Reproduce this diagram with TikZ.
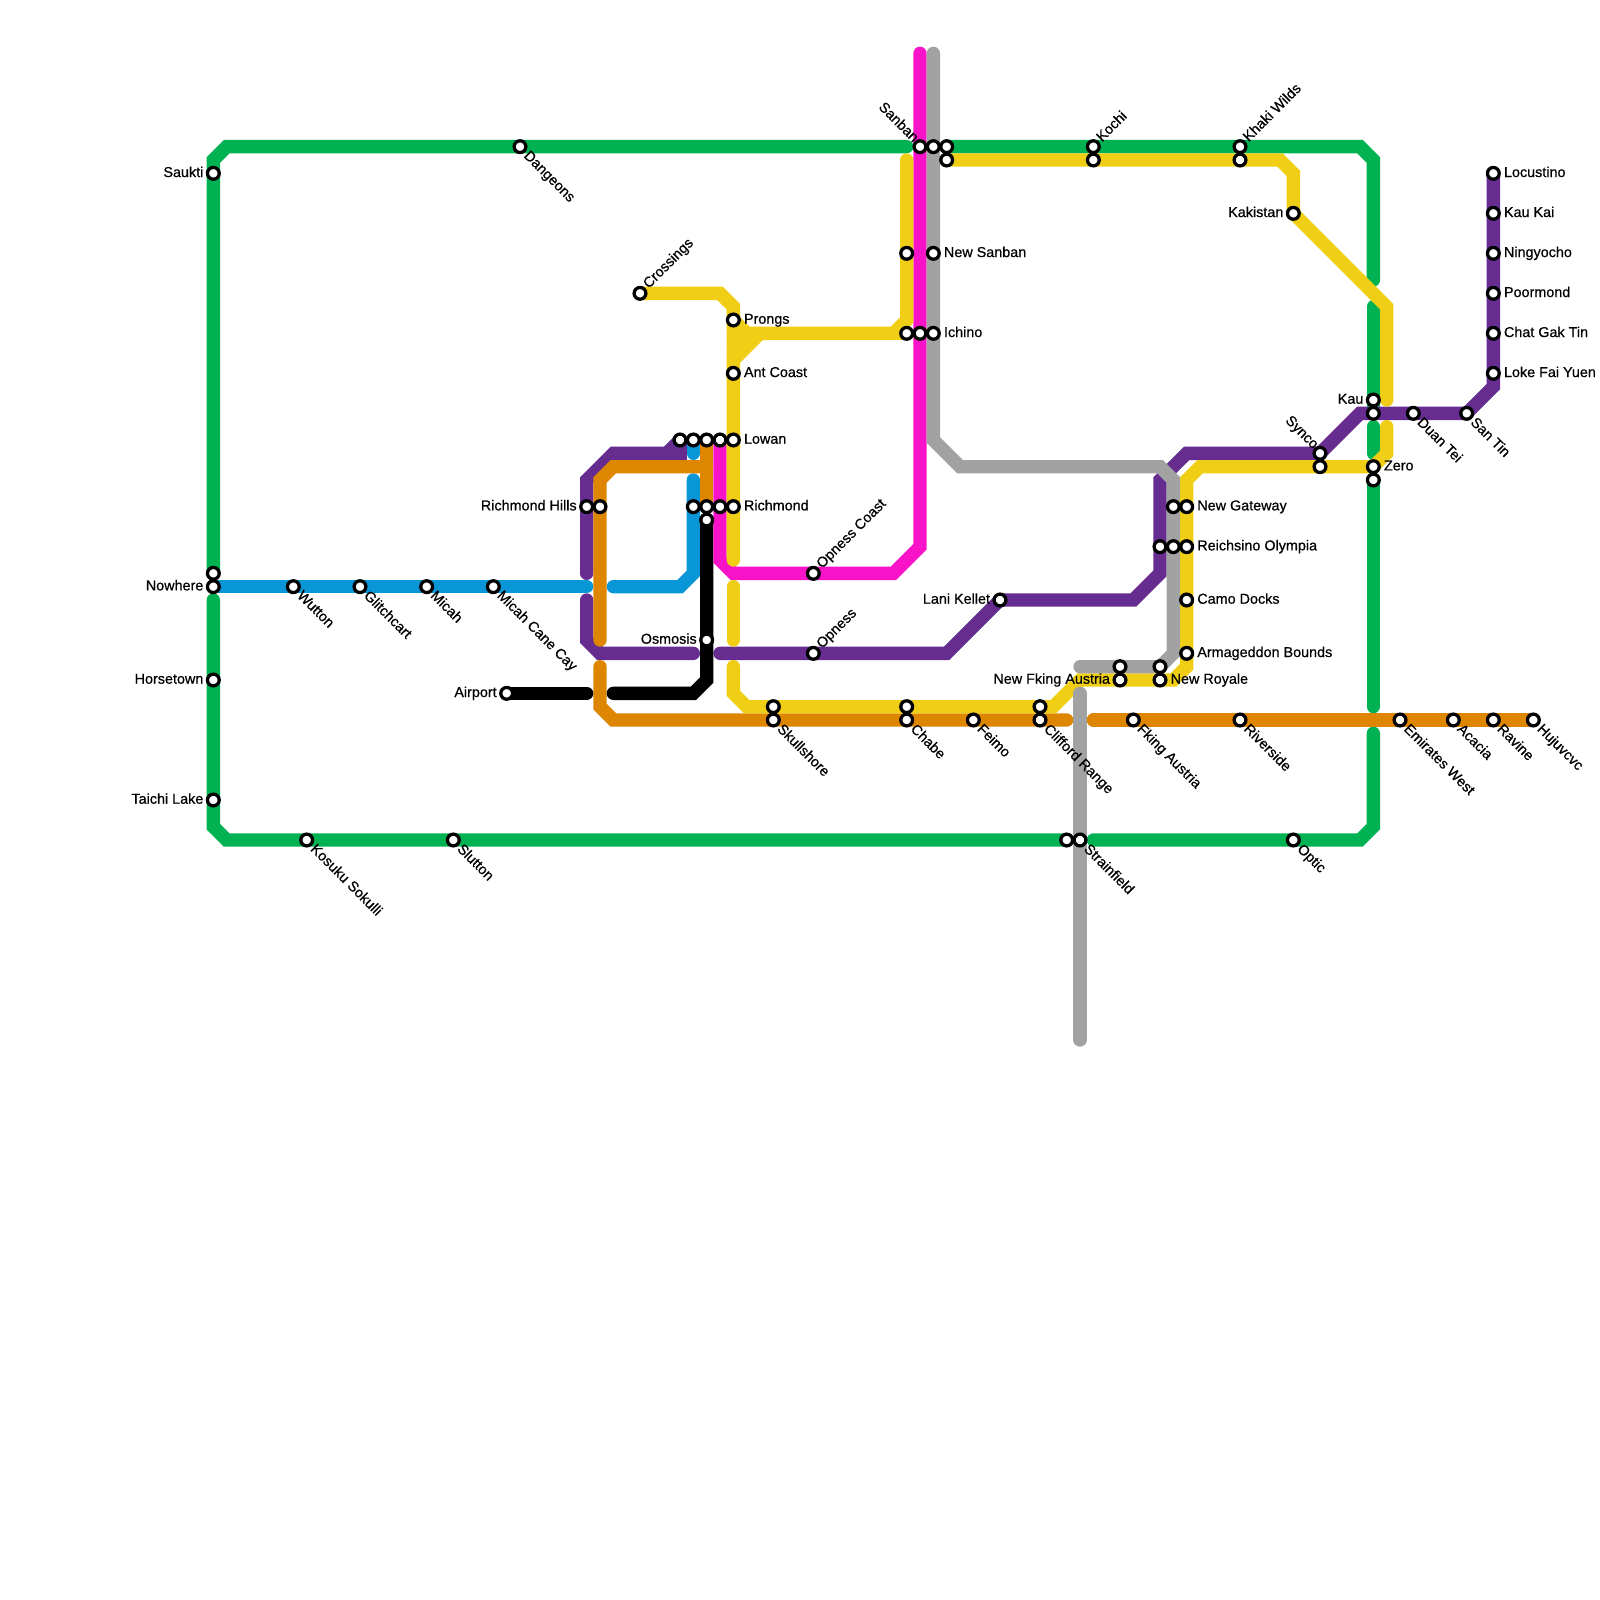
\documentclass[tikz,border=0pt]{standalone}
\usepackage{fontspec}
\setmainfont{Liberation Sans}[FakeBold=0.6]
\usepackage{xcolor}
\usetikzlibrary{backgrounds}

\definecolor{mapgreen}{HTML}{00B251}
\definecolor{mapblue}{HTML}{0896D7}
\definecolor{mappurple}{HTML}{662C90}
\definecolor{maporange}{HTML}{DF8600}
\definecolor{mapyellow}{HTML}{F0CE15}
\definecolor{mapmagenta}{HTML}{F812C8}
\definecolor{mapgrey}{HTML}{A2A2A2}

\tikzset{
    station/.style={draw=black, fill=white, circle, line width=2.1pt, inner sep=0pt, outer sep=0pt, minimum size=0.265cm},
    maplabel/.style={font=\fontsize{9.2pt}{10pt}\selectfont, inner sep=0pt, text height=1.5ex, text depth=0.6ex},
    lbleast/.style={maplabel, anchor=west, label distance=0.1cm},
    lblwest/.style={maplabel, anchor=east, label distance=0.085cm},
    lbldown/.style={maplabel, anchor=west, rotate=-45, label distance=0.085cm},
    lblup/.style={maplabel, anchor=west, rotate=45, label distance=0.085cm},
    lblback/.style={maplabel, anchor=east, rotate=-45, label distance=0.045cm},
    mapline/.style={line width=0.3cm, line cap=round}
}

\begin{document}
\begin{tikzpicture}[x=0.3cm, y=-0.3cm]
    \useasboundingbox (0,0) rectangle (120,120);

    % West side
    \node[station, label={[lblwest]180:Saukti}] (saukti) at (16,13) {};
    \node[station] (nowhereTop) at (16,43) {};
    \node[station, label={[lblwest]180:Nowhere}] (nowhere) at (16,44) {};
    \node[station, label={[lblwest]180:Horsetown}] (horsetown) at (16,51) {};
    \node[station, label={[lblwest]180:Taichi Lake}] (taichi) at (16,60) {};
    \node[station, label={[lbldown]-34:Dangeons}] (dangeons) at (39,11) {};
    \node[station, label={[lbldown]-34:Wutton}] (wutton) at (22,44) {};
    \node[station, label={[lbldown]-34:Glitchcart}] (glitchcart) at (27,44) {};
    \node[station, label={[lbldown]-34:Micah}] (micah) at (32,44) {};
    \node[station, label={[lbldown]-34:Micah Cane Cay}] (micahcane) at (37,44) {};
    \node[station, label={[lbldown]-34:Kosuku Sokulli}] (kosuku) at (23,63) {};
    \node[station, label={[lbldown]-34:Slutton}] (slutton) at (34,63) {};
    \node[station, label={[lblwest]180:Airport}] (airport) at (38,52) {};

    % Richmond and Lowan
    \node[station, label={[lblwest]180:Richmond Hills}] (richhills) at (44,38) {};
    \node[station] (richhillsE) at (45,38) {};
    \node[station, label={[lblup]31:Crossings}] (crossings) at (48,22) {};
    \node[station] (lowanA) at (51,33) {};
    \node[station] (lowanB) at (52,33) {};
    \node[station] (lowanC) at (53,33) {};
    \node[station] (lowanD) at (54,33) {};
    \node[station, label={[lbleast]0:Lowan}] (lowan) at (55,33) {};
    \node[station] (richA) at (52,38) {};
    \node[station] (richB) at (53,38) {};
    \node[station] (richC) at (54,38) {};
    \node[station, label={[lbleast]0:Richmond}] (richmond) at (55,38) {};
    \node[station] (richS) at (53,39) {};
    \node[station, label={[lblwest]180:Osmosis}] (osmosis) at (53,48) {};
    \node[station, label={[lbleast]0:Prongs}] (prongs) at (55,24) {};
    \node[station, label={[lbleast]0:Ant Coast}] (antcoast) at (55,28) {};

    % South middle
    \node[station] (skullN) at (58,53) {};
    \node[station, label={[lbldown]-34:Skullshore}] (skullshore) at (58,54) {};
    \node[station, label={[lblup]31:Opness Coast}] (opnesscoast) at (61,43) {};
    \node[station, label={[lblup]31:Opness}] (opness) at (61,49) {};
    \node[station] (chabeN) at (68,53) {};
    \node[station, label={[lbldown]-34:Chabe}] (chabe) at (68,54) {};
    \node[station, label={[lbldown]-34:Feimo}] (feimo) at (73,54) {};
    \node[station] (cliffordN) at (78,53) {};
    \node[station, label={[lbldown]-34:Clifford Range}] (clifford) at (78,54) {};
    \node[station, label={[lblwest]180:Lani Kellet}] (lani) at (75,45) {};
    \node[station] (strainW) at (80,63) {};
    \node[station, label={[lbldown]-34:Strainfield}] (strainfield) at (81,63) {};

    % Sanban
    \node[station, label={[lblback]135:Sanban}] (sanban) at (69,11) {};
    \node[station] (sanbanB) at (70,11) {};
    \node[station] (sanbanC) at (71,11) {};
    \node[station] (sanbanS) at (71,12) {};
    \node[station] (newsanW) at (68,19) {};
    \node[station, label={[lbleast]0:New Sanban}] (newsanban) at (70,19) {};
    \node[station] (ichinoA) at (68,25) {};
    \node[station] (ichinoB) at (69,25) {};
    \node[station, label={[lbleast]0:Ichino}] (ichino) at (70,25) {};
    \node[station, label={[lblup]31:Kochi}] (kochi) at (82,11) {};
    \node[station] (kochiS) at (82,12) {};
    \node[station, label={[lblup]31:Khaki Wilds}] (khaki) at (93,11) {};
    \node[station] (khakiS) at (93,12) {};

    % Reichsino group
    \node[station] (gatewayW) at (88,38) {};
    \node[station, label={[lbleast]0:New Gateway}] (gateway) at (89,38) {};
    \node[station] (reichA) at (87,41) {};
    \node[station] (reichB) at (88,41) {};
    \node[station, label={[lbleast]0:Reichsino Olympia}] (reichsino) at (89,41) {};
    \node[station, label={[lbleast]0:Camo Docks}] (camo) at (89,45) {};
    \node[station, label={[lbleast]0:Armageddon Bounds}] (armageddon) at (89,49) {};
    \node[station] (austriaN) at (84,50) {};
    \node[station, label={[lblwest]180:New Fking Austria}] (newaustria) at (84,51) {};
    \node[station] (royaleN) at (87,50) {};
    \node[station, label={[lbleast]0:New Royale}] (royale) at (87,51) {};
    \node[station, label={[lbldown]-34:Fking Austria}] (austria) at (85,54) {};
    \node[station, label={[lbldown]-34:Riverside}] (riverside) at (93,54) {};
    \node[station, label={[lbldown]-34:Optic}] (optic) at (97,63) {};

    % East side
    \node[station, label={[lblwest]180:Kakistan}] (kakistan) at (97,16) {};
    \node[station, label={[lblback]135:Synco}] (synco) at (99,34) {};
    \node[station] (syncoS) at (99,35) {};
    \node[station, label={[lblwest]180:Kau}] (kau) at (103,30) {};
    \node[station] (kauS) at (103,31) {};
    \node[station, label={[lbleast]0:Zero}] (zero) at (103,35) {};
    \node[station] (zeroS) at (103,36) {};
    \node[station, label={[lbldown]-34:Duan Tei}] (duantei) at (106,31) {};
    \node[station, label={[lbldown]-34:San Tin}] (santin) at (110,31) {};
    \node[station, label={[lbleast]0:Locustino}] (locustino) at (112,13) {};
    \node[station, label={[lbleast]0:Kau Kai}] (kaukai) at (112,16) {};
    \node[station, label={[lbleast]0:Ningyocho}] (ningyocho) at (112,19) {};
    \node[station, label={[lbleast]0:Poormond}] (poormond) at (112,22) {};
    \node[station, label={[lbleast]0:Chat Gak Tin}] (chatgak) at (112,25) {};
    \node[station, label={[lbleast]0:Loke Fai Yuen}] (lokefai) at (112,28) {};
    \node[station, label={[lbldown]-34:Emirates West}] (emirates) at (105,54) {};
    \node[station, label={[lbldown]-34:Acacia}] (acacia) at (109,54) {};
    \node[station, label={[lbldown]-34:Ravine}] (ravine) at (112,54) {};
    \node[station, label={[lbldown]-34:Hujuvcvc}] (hujuvcvc) at (115,54) {};

    % Free line ends
    \coordinate (greenA) at (68,11);
    \coordinate (greenB) at (103,21);
    \coordinate (greenC) at (103,23);
    \coordinate (greenD) at (103,32);
    \coordinate (greenE) at (103,34);
    \coordinate (greenF) at (103,53);
    \coordinate (greenG) at (103,55);
    \coordinate (greenH) at (82,63);
    \coordinate (greenI) at (16,45);
    \coordinate (blueA) at (44,44);
    \coordinate (blueB) at (46,44);
    \coordinate (blueC) at (52,36);
    \coordinate (blueD) at (52,34);
    \coordinate (purpleA) at (44,43);
    \coordinate (purpleB) at (44,45);
    \coordinate (purpleC) at (52,49);
    \coordinate (purpleD) at (54,49);
    \coordinate (orangeA) at (45,48);
    \coordinate (orangeB) at (45,50);
    \coordinate (orangeC) at (53,35);
    \coordinate (orangeD) at (80,54);
    \coordinate (orangeE) at (82,54);
    \coordinate (blackA) at (46,52);
    \coordinate (blackB) at (44,52);
    \coordinate (pinkA) at (69,4);
    \coordinate (greyA) at (70,4);
    \coordinate (greyB) at (81,50);
    \coordinate (greyC) at (81,52);
    \coordinate (greyD) at (81,78);
    \coordinate (yellowA) at (55,42);
    \coordinate (yellowB) at (55,44);
    \coordinate (yellowC) at (55,48);
    \coordinate (yellowD) at (55,50);
    \coordinate (yellowE) at (68,12);
    \coordinate (yellowF) at (55,25);
    \coordinate (yellowG) at (57,25);
    \coordinate (yellowH) at (56,25);
    \coordinate (yellowI) at (104,30);
    \coordinate (yellowJ) at (104,32);
    \coordinate (yellowK) at (55,27);
    \coordinate (yellowL) at (55,26);

    \begin{scope}[on background layer]
        % Green line
        \draw[mapline, mapgreen] (nowhereTop.center) -- (saukti.center) -- (16,12) -- (17,11) -- (dangeons.center) -- (greenA);
        \draw[mapline, mapgreen] (sanbanC.center) -- (kochi.center) -- (khaki.center) -- (102,11) -- (103,12) -- (greenB);
        \draw[mapline, mapgreen] (greenC) -- (kau.center) -- (kauS.center);
        \draw[mapline, mapgreen] (greenD) -- (greenE);
        \draw[mapline, mapgreen] (zeroS.center) -- (greenF);
        \draw[mapline, mapgreen] (greenG) -- (103,62) -- (102,63) -- (optic.center) -- (greenH);
        \draw[mapline, mapgreen] (strainW.center) -- (slutton.center) -- (kosuku.center) -- (17,63) -- (16,62) -- (taichi.center) -- (horsetown.center) -- (greenI);

        % Purple line
        \draw[mapline, mappurple] (lowanA.center) -- (50,34) -- (46,34) -- (44,36) -- (richhills.center) -- (purpleA);
        \draw[mapline, mappurple] (lowanA.center) -- (51,34) -- (50,34);
        \draw[mapline, mappurple] (purpleB) -- (44,48) -- (45,49) -- (purpleC);
        \draw[mapline, mappurple] (purpleD) -- (opness.center) -- (71,49) -- (lani.center) -- (85,45) -- (87,43) -- (reichA.center) -- (87,36) -- (89,34) -- (synco.center) -- (102,31) -- (kauS.center) -- (duantei.center) -- (santin.center) -- (112,29) -- (lokefai.center) -- (locustino.center);

        % Blue line
        \draw[mapline, mapblue] (nowhere.center) -- (wutton.center) -- (micahcane.center) -- (blueA);
        \draw[mapline, mapblue] (blueB) -- (51,44) -- (52,43) -- (richA.center) -- (blueC);
        \draw[mapline, mapblue] (lowanB.center) -- (blueD);

        % Orange line
        \draw[mapline, maporange] (orangeA) -- (richhillsE.center) -- (45,36) -- (46,35) -- (orangeC);
        \draw[mapline, maporange] (lowanC.center) -- (richB.center);
        \draw[mapline, maporange] (orangeB) -- (45,53) -- (46,54) -- (skullshore.center) -- (clifford.center) -- (orangeD);
        \draw[mapline, maporange] (orangeE) -- (austria.center) -- (hujuvcvc.center);

        % Black line
        \draw[mapline, black] (richS.center) -- (osmosis.center) -- (53,51) -- (52,52) -- (blackA);
        \draw[mapline, black] (blackB) -- (airport.center);

        % Magenta line
        \draw[mapline, mapmagenta] (pinkA) -- (sanban.center) -- (ichinoB.center) -- (69,41) -- (67,43) -- (opnesscoast.center) -- (55,43) -- (54,42) -- (richC.center) -- (lowanD.center);

        % Yellow line
        \draw[mapline, mapyellow] (crossings.center) -- (54,22) -- (55,23) -- (prongs.center) -- (antcoast.center) -- (lowan.center) -- (richmond.center) -- (yellowA);
        \draw[mapline, mapyellow] (yellowB) -- (yellowC);
        \draw[mapline, mapyellow] (yellowD) -- (55,52) -- (56,53) -- (skullN.center) -- (cliffordN.center) -- (79,53) -- (81,51) -- (newaustria.center) -- (royale.center) -- (88,51) -- (89,50) -- (armageddon.center) -- (gateway.center) -- (89,36) -- (90,35) -- (syncoS.center) -- (zero.center);
        \draw[mapline, mapyellow] (yellowE) -- (newsanW.center) -- (68,24) -- (67,25) -- (yellowF);
        \draw[mapline, mapyellow] (ichinoA.center) -- (67,25);
        \draw[mapline, mapyellow] (yellowG) -- (yellowK);
        \draw[mapline, mapyellow] (yellowG) -- (yellowL);
        \draw[mapline, mapyellow] (prongs.center) -- (yellowH);
        \draw[mapline, mapyellow] (sanbanS.center) -- (kochiS.center) -- (khakiS.center) -- (96,12) -- (97,13) -- (kakistan.center) -- (104,23) -- (yellowI);
        \draw[mapline, mapyellow] (yellowJ) -- (104,34) -- (zero.center);

        % Grey line
        \draw[mapline, mapgrey] (greyA) -- (sanbanB.center) -- (ichino.center) -- (70,33) -- (72,35) -- (87,35) -- (88,36) -- (reichB.center) -- (88,49) -- (royaleN.center) -- (austriaN.center) -- (greyB);
        \draw[mapline, mapgrey] (greyC) -- (strainfield.center) -- (greyD);
    \end{scope}
\end{tikzpicture}
\end{document}
